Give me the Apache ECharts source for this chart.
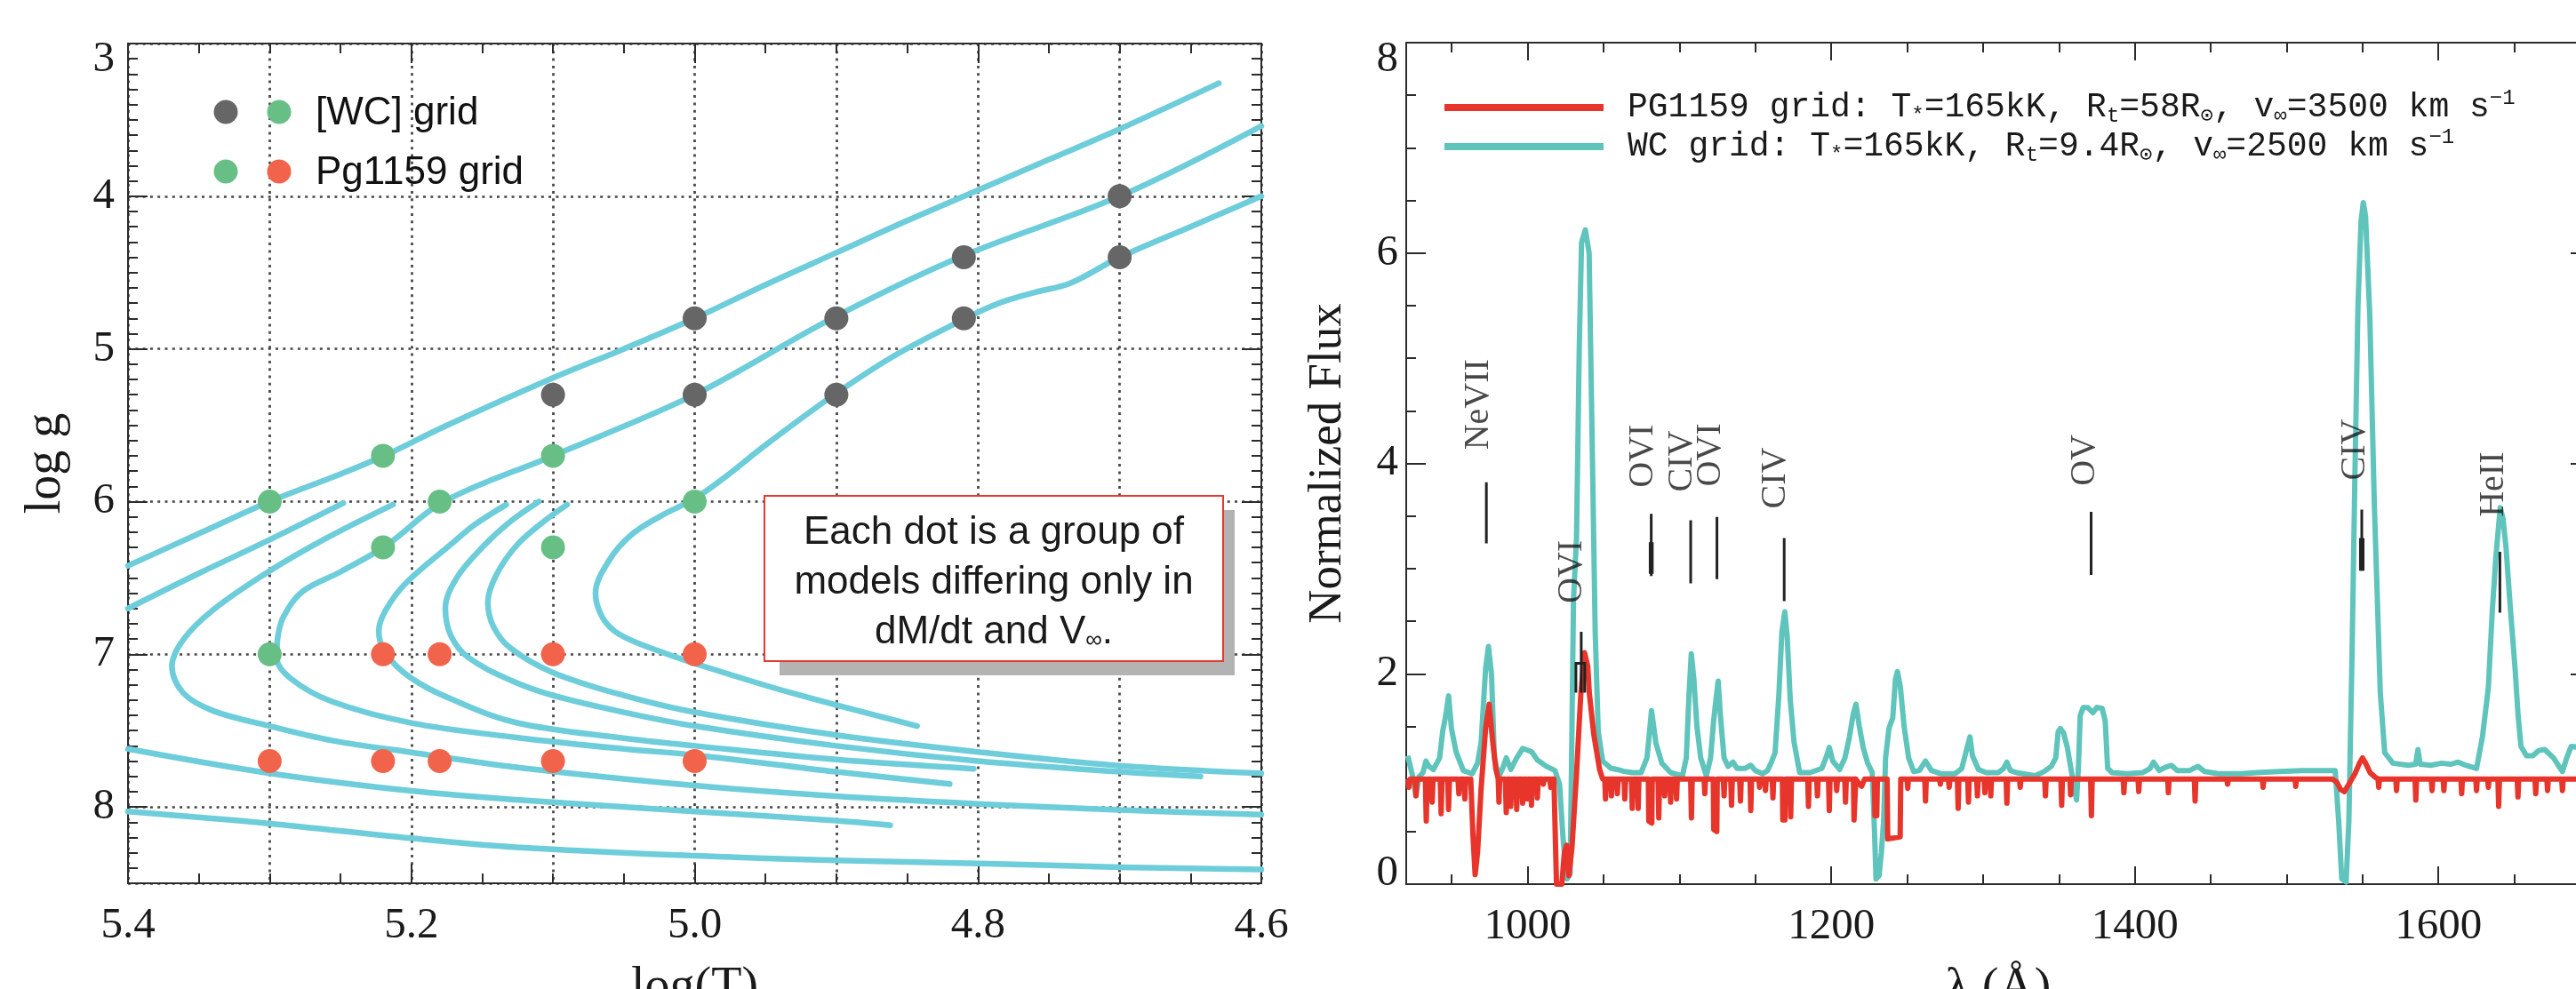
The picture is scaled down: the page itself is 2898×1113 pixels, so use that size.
<!DOCTYPE html>
<html><head><meta charset="utf-8">
<script src="https://cdn.jsdelivr.net/npm/echarts@6/dist/echarts.min.js"></script>
<style>html,body{margin:0;padding:0;background:#fff}#c{width:2898px;height:1113px}</style>
</head><body><div id="c"></div>
<script>
// ---------------- LEFT PANEL DATA (log T, log g) ----------------
const xTickLabelsLeft = [5.4, 5.2, 5.0, 4.8, 4.6];
const yTickLabelsLeft = [3, 4, 5, 6, 7, 8];
const trackA = [[5.40,6.42],[5.35,6.21],[5.30,6.00],[5.25,5.82],[5.218,5.695],[5.177,5.51],[5.10,5.19],[5.05,5.0],[5.00,4.80],[4.95,4.58],[4.90,4.37],[4.85,4.16],[4.80,3.96],[4.75,3.76],[4.70,3.56],[4.63,3.26]];
const trackB = [[5.40,6.70],[5.35,6.47],[5.30,6.25],[5.248,6.01]];
const trackC1 = [[5.213,6.02],[5.26,6.24],[5.301,6.46],[5.34,6.71],[5.361,6.905],[5.369,7.08],[5.361,7.254],[5.34,7.37],[5.301,7.468],[5.256,7.565],[5.20,7.643],[5.126,7.74],[5.0,7.86],[4.9,7.93],[4.8,7.98],[4.7,8.02],[4.6,8.05]];
const trackC2 = [[4.60,3.54],[4.70,4.00],[4.813,4.40],[4.903,4.80],[5.0,5.30],[5.10,5.70],[5.177,6.0],[5.218,6.29],[5.25,6.46],[5.277,6.59],[5.29,6.75],[5.294,6.87],[5.295,7.02],[5.285,7.16],[5.256,7.31],[5.2,7.45],[5.126,7.545],[5.05,7.62],[5.0,7.66],[4.9,7.77],[4.82,7.85]];
const trackC3 = [[5.133,6.02],[5.155,6.15],[5.172,6.28],[5.204,6.536],[5.218,6.71],[5.223,6.847],[5.218,6.996],[5.20,7.157],[5.172,7.293],[5.126,7.448],[5.05,7.55],[5.0,7.6],[4.9,7.69],[4.803,7.75]];
const trackC4 = [[5.11,6.0],[5.13,6.13],[5.15,6.3],[5.168,6.5],[5.176,6.7],[5.172,6.88],[5.16,7.02],[5.13,7.17],[5.1,7.27],[5.05,7.38],[5.0,7.47],[4.9,7.6],[4.8,7.7],[4.7,7.77],[4.643,7.80]];
const trackC5 = [[5.09,6.02],[5.105,6.12],[5.125,6.28],[5.14,6.48],[5.146,6.66],[5.142,6.82],[5.13,6.96],[5.10,7.12],[5.05,7.27],[5.0,7.38],[4.9,7.53],[4.8,7.64],[4.7,7.73],[4.6,7.78]];
const trackC6 = [[4.60,4.00],[4.65,4.20],[4.70,4.40],[4.735,4.57],[4.76,4.63],[4.785,4.70],[4.813,4.82],[4.86,5.05],[4.903,5.31],[4.95,5.63],[4.98,5.85],[5.0,5.98],[5.025,6.1],[5.045,6.22],[5.06,6.38],[5.07,6.6],[5.065,6.76],[5.053,6.87],[5.025,6.98],[5.0,7.06],[4.933,7.25],[4.843,7.47]];
const trackE = [[5.40,7.62],[5.301,7.778],[5.2,7.895],[5.126,7.953],[5.0,8.03],[4.9,8.09],[4.862,8.12]];
const trackF = [[5.40,8.03],[5.301,8.108],[5.2,8.205],[5.126,8.264],[5.0,8.32],[4.9,8.35],[4.8,8.37],[4.7,8.395],[4.6,8.41]];
const wcGridGrey = [[5.1,5.3],[5.0,4.8],[5.0,5.3],[4.9,4.8],[4.9,5.3],[4.81,4.4],[4.81,4.8],[4.7,4.0],[4.7,4.4]];
const sharedGreen = [[5.3,6.0],[5.22,5.7],[5.22,6.3],[5.18,6.0],[5.1,5.7],[5.1,6.3],[5.0,6.0],[5.3,7.0]];
const pgGridRed = [[5.22,7.0],[5.18,7.0],[5.1,7.0],[5.0,7.0],[5.3,7.7],[5.22,7.7],[5.18,7.7],[5.1,7.7],[5.0,7.7]];

// ---------------- RIGHT PANEL DATA (wavelength, normalized flux) ----------------
const xTickLabelsRight = [1000, 1200, 1400, 1600];
const xMinorTicksRight = [950, 1050, 1100, 1150, 1250, 1300, 1350, 1450, 1500, 1550, 1650, 1700];
const wcSpectrum = [[921,1.22],[923,1.1],[925,0.98],[926.4,0.84],[928.4,1.02],[931,1.06],[933,1.17],[935,1.12],[938,1.09],[942,1.2],[944,1.45],[946,1.6],[947.9,1.79],[949.8,1.48],[952.8,1.26],[957.6,1.08],[963.5,1.05],[967,1.15],[969.3,1.34],[972.3,2.05],[974.2,2.26],[976.2,1.99],[978.1,1.2],[981,1.02],[983.5,1.1],[985.9,1.2],[988.9,1.09],[992.8,1.2],[996.7,1.29],[1002.5,1.26],[1006.4,1.18],[1012.3,1.12],[1018,1.08],[1021,0.95],[1023.5,0.4],[1026,0.05],[1028,0.1],[1029.2,1.5],[1030.2,2.7],[1032.2,3.3],[1034,5.1],[1035.5,6.1],[1038,6.22],[1040.5,6.0],[1042.5,4.2],[1044.5,2.4],[1046.5,1.45],[1049.4,1.17],[1055,1.1],[1059,1.09],[1064,1.07],[1069,1.06],[1074.7,1.06],[1078.6,1.2],[1080.3,1.45],[1081.6,1.65],[1083,1.5],[1084.5,1.34],[1088.4,1.15],[1094.2,1.06],[1102,1.03],[1104.5,1.2],[1106.3,1.8],[1107.8,2.19],[1109.5,1.95],[1111.5,1.5],[1114,1.2],[1117.7,1.03],[1120.5,1.2],[1122.5,1.55],[1124,1.75],[1125.5,1.93],[1127,1.6],[1129.4,1.2],[1132,1.12],[1135.3,1.16],[1138,1.1],[1143,1.1],[1147,1.13],[1150,1.08],[1154.8,1.05],[1158,1.08],[1160.6,1.16],[1163,1.25],[1165.5,1.8],[1167.5,2.4],[1169.4,2.59],[1171,2.35],[1173,1.75],[1175.5,1.35],[1179.2,1.06],[1186,1.06],[1193.8,1.1],[1197,1.22],[1198.7,1.3],[1201,1.17],[1205.5,1.09],[1209,1.2],[1212,1.4],[1214.5,1.62],[1216.3,1.71],[1218.5,1.5],[1221,1.3],[1224,1.15],[1227,1.06],[1228.5,0.5],[1229.5,0.05],[1231.5,0.08],[1233,0.3],[1234.5,0.6],[1235.8,1.2],[1238,1.48],[1240.5,1.58],[1242.3,1.95],[1243.6,2.02],[1245.5,1.88],[1248,1.5],[1251,1.2],[1254.3,1.07],[1258,1.08],[1262.1,1.17],[1266,1.08],[1272,1.05],[1281.6,1.05],[1286,1.1],[1289.5,1.3],[1291.4,1.4],[1293,1.22],[1297,1.09],[1302,1.06],[1310,1.06],[1313.5,1.1],[1315.7,1.16],[1318,1.08],[1322,1.06],[1334.3,1.03],[1340.1,1.07],[1345,1.12],[1347.9,1.2],[1349.5,1.45],[1350.9,1.48],[1353,1.44],[1355.5,1.3],[1358.7,1.03],[1361.6,0.8],[1362.8,1.1],[1364,1.6],[1366,1.68],[1369,1.68],[1372.3,1.63],[1375,1.68],[1378.5,1.67],[1380.5,1.55],[1382.1,1.1],[1385,1.06],[1395,1.05],[1405,1.06],[1410,1.1],[1412.3,1.16],[1416,1.08],[1420,1.11],[1424,1.13],[1428,1.08],[1436,1.08],[1441.6,1.12],[1446,1.07],[1455,1.05],[1470,1.05],[1480,1.06],[1495,1.07],[1510,1.08],[1525,1.08],[1532,1.08],[1534.3,0.6],[1536.3,0.05],[1539.2,0.02],[1541,0.6],[1543.1,2.2],[1545,3.9],[1547,5.5],[1549,6.3],[1550.5,6.48],[1552,6.35],[1554.8,5.4],[1557.8,3.6],[1561.7,1.82],[1564.6,1.25],[1570,1.15],[1580.2,1.13],[1585,1.14],[1586.5,1.28],[1588,1.14],[1595,1.13],[1602,1.15],[1608,1.14],[1613,1.16],[1618,1.13],[1625.1,1.1],[1629,1.4],[1632.9,1.87],[1635.5,2.6],[1637.8,3.1],[1640.7,3.58],[1642.5,3.48],[1644.6,3.19],[1647.5,2.6],[1650.5,2.05],[1652.5,1.6],[1654.4,1.31],[1658,1.22],[1662.2,1.22],[1666,1.27],[1670,1.28],[1675.8,1.2],[1681.7,1.07],[1684.5,1.2],[1687.5,1.31],[1693,1.3]];
const pgSpectrum = [[921,1.0],[921.8,0.92],[922.6,1.0],[925.8,1.0],[926.4,0.84],[927,1.0],[932.6,1.0],[933.2,0.6],[933.8,1.0],[936.5,1.0],[937.1,0.78],[937.7,1.0],[942.4,1.0],[943,0.67],[943.6,1.0],[947.3,1.0],[947.9,0.71],[948.5,1.0],[954.1,1.0],[954.7,0.86],[955.3,1.0],[958,1.0],[958.6,0.81],[959.2,1.0],[962.5,1.0],[964,0.45],[965.4,0.09],[967,0.3],[969.3,0.9],[972.3,1.48],[974.6,1.71],[977.1,1.34],[979,1.1],[980.6,1.0],[981.1,0.78],[981.6,1.0],[985.3,1.0],[985.9,0.68],[986.5,1.0],[988.3,1.0],[988.9,0.74],[989.5,1.0],[992.2,1.0],[992.8,0.71],[993.4,1.0],[996.1,1.0],[996.7,0.77],[997.3,1.0],[999,1.0],[999.6,0.81],[1000.2,1.0],[1001.9,1.0],[1002.5,0.75],[1003.1,1.0],[1005.8,1.0],[1006.4,0.82],[1007,1.0],[1009.7,1.0],[1010.3,0.95],[1010.9,1.0],[1014.6,1.0],[1015.2,0.92],[1015.8,1.0],[1017.3,1.0],[1018.3,0.4],[1019,0.0],[1022.5,0.0],[1024.2,0.3],[1025.6,0.37],[1027.2,0.08],[1029.2,0.35],[1032,1.0],[1035,1.8],[1037.5,2.2],[1039.6,2.07],[1040.6,1.82],[1043.5,1.43],[1047.4,1.09],[1049.4,1.0],[1050.8,1.0],[1051.3,0.81],[1051.8,1.0],[1054.7,1.0],[1055.2,0.84],[1055.7,1.0],[1058.6,1.0],[1059.1,0.86],[1059.6,1.0],[1063.5,1.0],[1064,0.81],[1064.5,1.0],[1068.4,1.0],[1068.9,0.72],[1069.4,1.0],[1072.3,1.0],[1072.8,0.72],[1073.3,1.0],[1079.5,1.0],[1079.8,0.6],[1081.8,0.58],[1082.1,1.0],[1085.9,1.0],[1086.4,0.63],[1086.9,1.0],[1089.8,1.0],[1090.3,0.84],[1090.8,1.0],[1093.7,1.0],[1094.2,0.78],[1094.7,1.0],[1097.6,1.0],[1098.1,0.81],[1098.6,1.0],[1107.4,1.0],[1107.9,0.63],[1108.4,1.0],[1116.2,1.0],[1116.7,0.86],[1117.2,1.0],[1122.3,1.0],[1122.6,0.52],[1124.6,0.5],[1124.9,1.0],[1128.9,1.0],[1129.4,0.84],[1129.9,1.0],[1133.8,1.0],[1134.3,0.75],[1134.8,1.0],[1139.7,1.0],[1140.2,0.79],[1140.7,1.0],[1146.5,1.0],[1147,0.7],[1147.5,1.0],[1152.3,1.0],[1152.8,0.92],[1153.3,1.0],[1156.2,1.0],[1156.7,0.89],[1157.2,1.0],[1161.1,1.0],[1161.6,0.82],[1162.1,1.0],[1167.8,1.0],[1168.1,0.61],[1169.5,0.61],[1169.8,1.0],[1172.8,1.0],[1173.3,0.64],[1173.8,1.0],[1184.5,1.0],[1185,0.74],[1185.5,1.0],[1190.4,1.0],[1190.9,0.84],[1191.4,1.0],[1198.2,1.0],[1198.7,0.7],[1199.2,1.0],[1203.1,1.0],[1203.6,0.89],[1204.1,1.0],[1208.9,1.0],[1209.4,0.78],[1209.9,1.0],[1214.6,1.0],[1215,0.61],[1215.8,0.61],[1216.2,1.0],[1218,0.96],[1220,0.93],[1222,1.0],[1228.4,1.0],[1228.8,0.65],[1230,0.65],[1230.4,1.0],[1236.8,1.0],[1237.2,0.43],[1245.4,0.45],[1245.8,1.0],[1249.9,1.0],[1250.4,0.91],[1250.9,1.0],[1261.6,1.0],[1262.1,0.79],[1262.6,1.0],[1271.4,1.0],[1271.9,0.95],[1272.4,1.0],[1277.2,1.0],[1277.7,0.92],[1278.2,1.0],[1283.1,1.0],[1283.6,0.72],[1284.1,1.0],[1289.9,1.0],[1290.4,0.78],[1290.9,1.0],[1295.8,1.0],[1296.3,0.84],[1296.8,1.0],[1300.7,1.0],[1301.2,0.87],[1301.7,1.0],[1304.6,1.0],[1305.1,0.84],[1305.6,1.0],[1315.2,1.0],[1315.7,0.77],[1316.2,1.0],[1324,1.0],[1324.5,0.92],[1325,1.0],[1340.6,1.0],[1341.1,0.84],[1341.6,1.0],[1351.3,1.0],[1351.8,0.75],[1352.3,1.0],[1357.2,1.0],[1357.7,0.85],[1358.2,1.0],[1370.9,1.0],[1371.4,0.65],[1371.9,1.0],[1392.3,1.0],[1392.8,0.87],[1393.3,1.0],[1402.1,1.0],[1402.6,0.88],[1403.1,1.0],[1421.6,1.0],[1422.1,0.87],[1422.6,1.0],[1439.2,1.0],[1439.7,0.79],[1440.2,1.0],[1460.6,1.0],[1461.1,0.95],[1461.6,1.0],[1484,1.0],[1484.5,0.92],[1485,1.0],[1505.5,1.0],[1506,0.93],[1506.5,1.0],[1530,1.0],[1533,0.97],[1535.5,0.9],[1538,0.88],[1541,0.95],[1545,1.05],[1548,1.15],[1550,1.2],[1552,1.15],[1555,1.06],[1558,1.02],[1560.2,1.0],[1560.7,0.92],[1561.2,1.0],[1571.9,1.0],[1572.4,0.89],[1572.9,1.0],[1584.6,1.0],[1585.1,0.8],[1585.6,1.0],[1595.3,1.0],[1595.8,0.89],[1596.3,1.0],[1603.1,1.0],[1603.6,0.89],[1604.1,1.0],[1614.8,1.0],[1615.3,0.86],[1615.8,1.0],[1624.6,1.0],[1625.1,0.89],[1625.6,1.0],[1632.4,1.0],[1632.9,0.92],[1633.4,1.0],[1639.2,1.0],[1639.7,0.74],[1640.2,1.0],[1651.9,1.0],[1652.4,0.83],[1652.9,1.0],[1663.6,1.0],[1664.1,0.86],[1664.6,1.0],[1671.4,1.0],[1671.9,0.89],[1672.4,1.0],[1681.2,1.0],[1681.7,0.89],[1682.2,1.0],[1693,1.0]];
const lineIdLabels = [['NeVII',968,4.56],['OVI',1029,2.97],['OVI',1076.1,4.07],['CIV',1101.8,4.02],['OVI',1120.5,4.08],['CIV',1163.5,3.86],['OV',1367,4.03],['CIV',1545,4.13],['HeII',1636.5,3.8]];
const lineIdMarks = [
  [[972.8,3.24],[972.8,3.82]],
  [[1031.8,1.82],[1031.8,2.10],[1037.6,2.10],[1037.6,1.82]],
  [[1035.3,1.82],[1035.3,2.40]],
  [[1081.4,2.93],[1081.4,3.52]],
  [[1080.7,2.95],[1080.7,3.25]],
  [[1082.1,2.95],[1082.1,3.25]],
  [[1107.4,2.86],[1107.4,3.46]],
  [[1124.7,2.90],[1124.7,3.49]],
  [[1169,2.69],[1169,3.29]],
  [[1371.2,2.94],[1371.2,3.54]],
  [[1549.5,2.98],[1549.5,3.56]],
  [[1548.6,2.98],[1548.6,3.29]],
  [[1550.4,2.98],[1550.4,3.29]],
  [[1640.5,2.58],[1640.5,3.16]]
];

// ---------------- STYLES ----------------
const AX = '#2b2b2b';
const TXT = '#1a1a1a';
const SERIF = '"Liberation Serif","Times New Roman",serif';
const SANS = '"Liberation Sans",Arial,sans-serif';
const MONO = '"Liberation Mono","DejaVu Sans Mono",monospace';
const TRACK = '#6ecdda';
const TEAL = '#5fc4bb';
const RED = '#e8352b';
const DOT_GREY = '#666666', DOT_GREEN = '#67bf86', DOT_RED = '#f1644b';
const axLine = {show:true, onZero:false, lineStyle:{color:AX, width:2}};
const noLine = {show:false, onZero:false};
const tickMajor = len => ({show:true, inside:true, length:len, lineStyle:{color:AX, width:2}});
const gridDot = {show:true, lineStyle:{color:'#444', width:2.7, type:[3,5.3]}};
const lblNum = {fontFamily:SERIF, fontSize:49, color:TXT};

const chart = echarts.init(document.getElementById('c'), null, {renderer:'canvas'});

const leftX = (extra) => Object.assign({gridIndex:0, type:'value', min:4.6, max:5.4, inverse:true, splitLine:{show:false}, axisLabel:{show:false}, axisTick:{show:false}, axisLine:noLine}, extra);
const leftY = (extra) => Object.assign({gridIndex:0, type:'value', min:3, max:8.5, inverse:true, splitLine:{show:false}, axisLabel:{show:false}, axisTick:{show:false}, axisLine:noLine}, extra);
const rightX = (extra) => Object.assign({gridIndex:1, type:'value', min:920, max:1700, splitLine:{show:false}, axisLabel:{show:false}, axisTick:{show:false}, axisLine:noLine}, extra);
const rightY = (extra) => Object.assign({gridIndex:1, type:'value', min:0, max:8, interval:2, splitLine:{show:false}, axisLabel:{show:false}, axisTick:{show:false}, axisLine:noLine}, extra);

const legendRich = {
  g:{width:22},
  s:{fontFamily:MONO, fontSize:24, lineHeight:24, verticalAlign:'bottom', color:TXT},
  u:{fontFamily:MONO, fontSize:24, lineHeight:24, verticalAlign:'top', color:TXT}
};

const option = {
  backgroundColor:'#ffffff',
  animation:false,
  grid:[
    {left:144, top:49, width:1275, height:945, outerBoundsMode:'none', containLabel:false},
    {left:1582, top:48, width:1332, height:947, outerBoundsMode:'none', containLabel:false}
  ],
  xAxis:[
    leftX({position:'bottom', interval:0.2, axisLine:axLine, axisTick:tickMajor(22),
      minorTick:{show:true, splitNumber:4, length:11, lineStyle:{color:AX, width:2}},
      axisLabel:Object.assign({show:true, margin:24, showMinLabel:true, showMaxLabel:true,
        formatter:v => xTickLabelsLeft.some(t => Math.abs(t - v) < 1e-6) ? v.toFixed(1) : ''}, lblNum),
      name:'log(T)', nameLocation:'middle', nameGap:90, nameTextStyle:{fontFamily:SERIF, fontSize:56, color:TXT}}),
    leftX({position:'top', interval:0.2, axisLine:axLine, axisTick:tickMajor(22),
      minorTick:{show:true, splitNumber:4, length:11, lineStyle:{color:AX, width:2}}}),
    leftX({position:'bottom', interval:0.1, splitLine:gridDot}),
    rightX({position:'bottom', axisLine:axLine,
      axisTick:Object.assign(tickMajor(20), {customValues:xTickLabelsRight}),
      axisLabel:Object.assign({show:true, margin:24, customValues:xTickLabelsRight, formatter:v => String(v)}, lblNum),
      name:'λ (Å)', nameLocation:'middle', nameGap:90, nameTextStyle:{fontFamily:SERIF, fontSize:56, color:TXT}}),
    rightX({position:'bottom', axisTick:Object.assign(tickMajor(11), {customValues:xMinorTicksRight})}),
    rightX({position:'top', axisLine:axLine, axisTick:Object.assign(tickMajor(20), {customValues:xTickLabelsRight})}),
    rightX({position:'top', axisTick:Object.assign(tickMajor(11), {customValues:xMinorTicksRight})})
  ],
  yAxis:[
    leftY({position:'left', interval:1, axisLine:axLine, axisTick:tickMajor(22), splitLine:gridDot,
      axisLabel:{show:true, margin:15, showMinLabel:true, showMaxLabel:true,
        formatter:v => { if (!yTickLabelsLeft.some(t => Math.abs(t - v) < 1e-6)) return ''; return v === 3 ? '{t|3}' : '{n|' + v + '}'; },
        rich:{t:Object.assign({padding:[36,0,0,0]}, lblNum), n:Object.assign({}, lblNum)}},
      name:'log g', nameLocation:'middle', nameGap:64, nameTextStyle:{fontFamily:SERIF, fontSize:56, color:TXT}}),
    leftY({position:'left', interval:0.1, axisTick:tickMajor(11)}),
    leftY({position:'right', interval:1, axisLine:axLine, axisTick:tickMajor(22)}),
    leftY({position:'right', interval:0.1, axisTick:tickMajor(11)}),
    rightY({position:'left', axisLine:axLine, axisTick:tickMajor(22),
      minorTick:{show:true, splitNumber:4, length:11, lineStyle:{color:AX, width:2}},
      axisLabel:{show:true, margin:9, showMinLabel:true, showMaxLabel:true,
        formatter:v => v === 8 ? '{t|8}' : (v === 0 ? '{b|0}' : '{n|' + v + '}'),
        rich:{t:Object.assign({padding:[38,0,0,0]}, lblNum), b:Object.assign({padding:[0,0,24,0]}, lblNum), n:Object.assign({}, lblNum)}},
      name:'Normalized Flux', nameLocation:'middle', nameGap:61, nameTextStyle:{fontFamily:SERIF, fontSize:53, color:TXT}}),
    rightY({position:'right', axisLine:axLine, axisTick:tickMajor(22),
      minorTick:{show:true, splitNumber:4, length:11, lineStyle:{color:AX, width:2}}})
  ],
  legend:[
    {data:['PG1159 grid'], left:1625, top:99, padding:0, icon:'rect', itemWidth:179, itemHeight:8, selectedMode:false,
     formatter:() => '{g| }PG1159 grid: T{s|*}=165kK, R{s|t}=58R{s|⊙}, v{s|∞}=3500 km s{u|−1}',
     textStyle:{fontFamily:MONO, fontSize:38, lineHeight:44, color:TXT, rich:legendRich}},
    {data:['WC grid'], left:1625, top:143, padding:0, icon:'rect', itemWidth:179, itemHeight:8, selectedMode:false,
     formatter:() => '{g| }WC grid: T{s|*}=165kK, R{s|t}=9.4R{s|⊙}, v{s|∞}=2500 km s{u|−1}',
     textStyle:{fontFamily:MONO, fontSize:38, lineHeight:44, color:TXT, rich:legendRich}}
  ],
  graphic:[
    {type:'circle', shape:{cx:254, cy:126, r:13.5}, style:{fill:DOT_GREY}, z:60},
    {type:'circle', shape:{cx:314, cy:126, r:13.5}, style:{fill:DOT_GREEN}, z:60},
    {type:'text', x:355, y:128, style:{text:'[WC] grid', fontFamily:SANS, fontSize:44, fill:'#111', align:'left', verticalAlign:'middle'}, z:60},
    {type:'circle', shape:{cx:254, cy:193, r:13.5}, style:{fill:DOT_GREEN}, z:60},
    {type:'circle', shape:{cx:314, cy:193, r:13.5}, style:{fill:DOT_RED}, z:60},
    {type:'text', x:355, y:195, style:{text:'Pg1159 grid', fontFamily:SANS, fontSize:44, fill:'#111', align:'left', verticalAlign:'middle'}, z:60},
    {type:'rect', shape:{x:877, y:574, width:512, height:186}, style:{fill:'#b3b3b3'}, z:60},
    {type:'rect', shape:{x:860, y:558, width:516, height:186}, style:{fill:'#ffffff', stroke:'#e8392e', lineWidth:2}, z:61},
    {type:'text', x:1118, y:600, style:{text:'Each dot is a group of', fontFamily:SANS, fontSize:44, fill:'#1a1a1a', align:'center', verticalAlign:'middle'}, z:62},
    {type:'text', x:1118, y:656, style:{text:'models differing only in', fontFamily:SANS, fontSize:44, fill:'#1a1a1a', align:'center', verticalAlign:'middle'}, z:62},
    {type:'text', x:1118, y:712, style:{text:'dM/dt and V{s|∞}.', fontFamily:SANS, fontSize:44, fill:'#1a1a1a', align:'center', verticalAlign:'middle',
      rich:{s:{fontFamily:SANS, fontSize:26, lineHeight:26, verticalAlign:'bottom', fill:'#1a1a1a'}}}, z:62}
  ],
  series:[
    ...[trackA, trackB, trackC1, trackC2, trackC3, trackC4, trackC5, trackC6, trackE, trackF].map(t => ({
      type:'line', xAxisIndex:0, yAxisIndex:0, data:t, symbol:'none', showSymbol:false, smooth:0.35, silent:true,
      lineStyle:{color:TRACK, width:6.5, cap:'round', join:'round'}, z:3
    })),
    {type:'scatter', xAxisIndex:0, yAxisIndex:0, data:wcGridGrey, symbolSize:27, itemStyle:{color:DOT_GREY, opacity:1}, z:5, silent:true},
    {type:'scatter', xAxisIndex:0, yAxisIndex:0, data:sharedGreen, symbolSize:27, itemStyle:{color:DOT_GREEN, opacity:1}, z:5, silent:true},
    {type:'scatter', xAxisIndex:0, yAxisIndex:0, data:pgGridRed, symbolSize:27, itemStyle:{color:DOT_RED, opacity:1}, z:5, silent:true},
    {name:'WC grid', type:'line', xAxisIndex:3, yAxisIndex:4, data:wcSpectrum, symbol:'none', showSymbol:false, clip:false, silent:true,
      itemStyle:{color:TEAL}, lineStyle:{color:TEAL, width:6, join:'round'}, z:3},
    {name:'PG1159 grid', type:'line', xAxisIndex:3, yAxisIndex:4, data:pgSpectrum, symbol:'none', showSymbol:false, clip:false, silent:true,
      itemStyle:{color:RED}, lineStyle:{color:RED, width:6, join:'round'}, z:4},
    {type:'lines', coordinateSystem:'cartesian2d', xAxisIndex:3, yAxisIndex:4, polyline:true, silent:true,
      data:lineIdMarks.map(c => ({coords:c})), lineStyle:{color:'#222', width:3, opacity:1}, z:6},
    {type:'scatter', xAxisIndex:3, yAxisIndex:4, symbol:'rect', symbolSize:1, silent:true,
      itemStyle:{color:'rgba(0,0,0,0)'},
      label:{show:true, position:'inside', rotate:90, formatter:p => p.name, fontFamily:SERIF, fontSize:40, color:TXT},
      data:lineIdLabels.map(d => ({name:d[0], value:[d[1], d[2]]})), z:7}
  ]
};
chart.setOption(option);
</script></body></html>
